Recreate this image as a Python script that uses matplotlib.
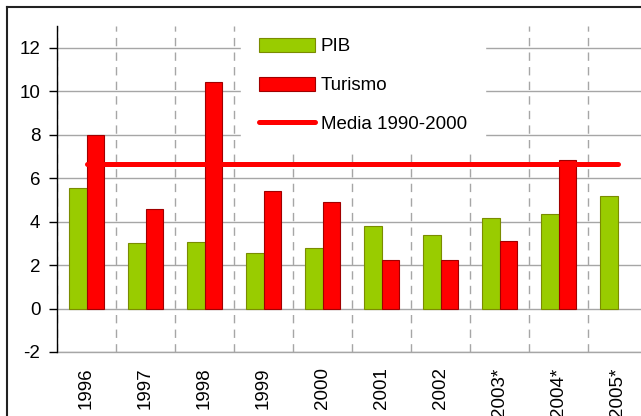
import matplotlib
matplotlib.use("Agg")
import matplotlib.pyplot as plt
import numpy as np
from matplotlib.lines import Line2D
from matplotlib.ticker import FixedLocator

plt.rcParams['font.family'] = ['Liberation Sans', 'DejaVu Sans']
plt.rcParams['axes.unicode_minus'] = False

years = ["1996", "1997", "1998", "1999", "2000", "2001", "2002", "2003*", "2004*", "2005*"]
pib = [5.55, 3.0, 3.05, 2.57, 2.8, 3.8, 3.37, 4.15, 4.37, 5.2]
turismo = [8.0, 4.57, 10.43, 5.4, 4.88, 2.24, 2.23, 3.12, 6.85, np.nan]
media = 6.65
yticks = [-2, 0, 2, 4, 6, 8, 10, 12]

W, H = 641, 416
fig = plt.figure(figsize=(W / 100, H / 100), dpi=100)
ax = fig.add_axes([57 / W, (H - 352) / H, 590 / W, 326 / H])

x = np.arange(len(years))
bw = 0.29
b1 = ax.bar(x - bw / 2, pib, bw, color="#99CC00", edgecolor="#7A8C00", linewidth=0.8,
            label="PIB", zorder=3)
b2 = ax.bar(x + bw / 2, turismo, bw, color="#FF0000", edgecolor="#A00000", linewidth=0.8,
            label="Turismo", zorder=3)
l1, = ax.plot([x[0], x[-1]], [media, media], color="#FF0000", lw=3.6,
              solid_capstyle="round", label="Media 1990-2000", zorder=4)

ax.set_xlim(-0.5, len(years) - 0.5)
ax.set_ylim(-2, 13)
ax.set_yticks(yticks)
ax.set_xticks(x)
ax.set_xticklabels(years, rotation=90, fontsize=13.5)
ax.xaxis.set_minor_locator(FixedLocator(np.arange(-0.5, len(years), 1.0)))
ax.tick_params(axis="x", which="both", length=0, pad=11)
ax.tick_params(axis="y", length=6, width=1, color="black", pad=6, labelsize=13.5)

ax.grid(axis="y", which="major", color="#A6A6A6", lw=1, zorder=0)
ax.grid(axis="x", which="minor", color="#A6A6A6", lw=1, linestyle=(0, (6, 4.5)), zorder=0)
ax.grid(axis="x", which="major", visible=False)
ax.axhline(-2, color="#A6A6A6", lw=1, zorder=0, clip_on=False)

for s in ["top", "right", "bottom"]:
    ax.spines[s].set_visible(False)
ax.spines["left"].set_color("black")
ax.spines["left"].set_linewidth(1)
ax.spines["left"].set_zorder(6)

leg = ax.legend(handles=[b1, b2, l1], loc="upper left", bbox_to_anchor=(241 / W, 1 - 20 / H),
                bbox_transform=fig.transFigure, fontsize=13.5, frameon=True,
                facecolor="white", edgecolor="white", framealpha=1, fancybox=False,
                borderaxespad=0, borderpad=0.95, handlelength=3.0, handleheight=0.75,
                handletextpad=0.3, labelspacing=1.15)
leg.set_zorder(5)

# outer frame (left and top)
fig.add_artist(Line2D([6.5 / W, 6.5 / W], [0, 1 - 6.5 / H], color="#222222", lw=1.5,
                      transform=fig.transFigure, zorder=10))
fig.add_artist(Line2D([6.5 / W, 1], [1 - 6.5 / H, 1 - 6.5 / H], color="#222222", lw=1.5,
                      transform=fig.transFigure, zorder=10))

fig.savefig("out.png", dpi=100)
